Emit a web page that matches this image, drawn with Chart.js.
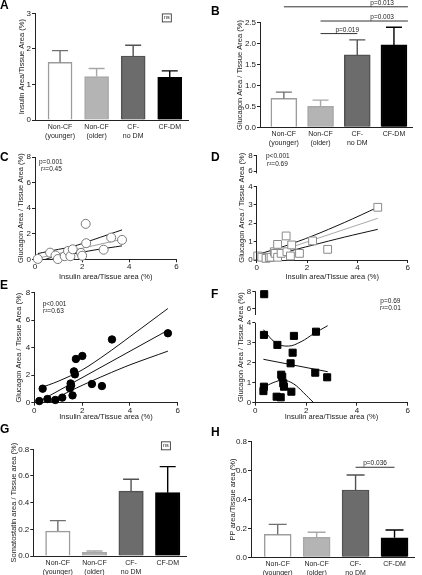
<!DOCTYPE html>
<html><head><meta charset="utf-8">
<script src="https://cdn.jsdelivr.net/npm/chart.js@4.4.0/dist/chart.umd.min.js"></script>
<style>
html,body{margin:0;padding:0;background:#fff;}
#wrap{position:relative;width:422px;height:575px;overflow:hidden;background:#fff;}
#wrap canvas{position:absolute;}
.lt{position:absolute;font:bold 12px "Liberation Sans",Arial,sans-serif;line-height:12px;color:#000;}
</style></head><body>
<div id="wrap">
<canvas id="cA"></canvas>
<canvas id="cB"></canvas>
<canvas id="cC"></canvas>
<canvas id="cD"></canvas>
<canvas id="cE"></canvas>
<canvas id="cF"></canvas>
<canvas id="cG"></canvas>
<canvas id="cH"></canvas>
<div class="lt" style="left:0px;top:-1px">A</div>
<div class="lt" style="left:211px;top:5px">B</div>
<div class="lt" style="left:0px;top:151px">C</div>
<div class="lt" style="left:211px;top:151px">D</div>
<div class="lt" style="left:0px;top:279px">E</div>
<div class="lt" style="left:211px;top:288px">F</div>
<div class="lt" style="left:0px;top:423px">G</div>
<div class="lt" style="left:211px;top:426px">H</div>
</div>
<script>
// ================= DATA =================
const groupLabels = [['Non-CF','(younger)'], ['Non-CF','(older)'], ['CF-','no DM'], 'CF-DM'];

const insulinMean = [1.62, 1.22, 1.80, 1.20];
const insulinSEM  = [0.33, 0.23, 0.30, 0.18];
const glucagonMean = [0.69, 0.50, 1.73, 1.97];
const glucagonSEM  = [0.15, 0.15, 0.36, 0.42];
const somatostatinMean = [0.187, 0.028, 0.487, 0.475];
const somatostatinSEM  = [0.078, 0.010, 0.088, 0.195];
const ppMean = [0.159, 0.138, 0.466, 0.135];
const ppSEM  = [0.069, 0.035, 0.104, 0.054];

const glucagonPairs = [[0,3],[1,3],[1,2]];
const glucagonPLabels = ['p=0.013','p=0.003','p=0.019'];
const ppPairs = [[2,3]];
const ppPLabels = ['p=0.036'];

// scatter y ticks (broken axes in D and F)
const brokenTicks = [0, 1, 2, 3, 4, 6, 8];

// C: Non-CF (younger)
const cInsulin  = [0.12, 0.64, 0.87, 0.97, 1.26, 1.40, 1.50, 1.60, 1.95, 2.00, 2.17, 2.15, 2.91, 3.23, 3.69];
const cGlucagon = [0.03, 0.52, 0.30, 0.02, 0.24, 0.65, 0.24, 0.78, 0.50, 0.28, 1.26, 2.77, 0.75, 1.70, 1.52];
const cFit   = [[0.12,0.08],[3.69,1.57]];
const cUpper = [[0.12,0.45],[1.0,0.78],[1.6,1.0],[2.5,1.55],[3.69,2.3]];
const cLower = [[0.12,-0.2],[1.0,0.3],[1.6,0.42],[2.5,0.72],[3.69,1.05]];

// D: Non-CF (older)
const dInsulin  = [0.04, 0.20, 0.37, 0.50, 0.57, 0.70, 0.73, 0.83, 0.83, 0.97, 1.17, 1.20, 1.34, 1.39, 1.70, 2.22, 2.82, 4.81];
const dGlucagon = [0.22, 0.15, 0.09, 0.13, 0.15, 0.45, 0.36, 0.85, 0.15, 0.36, 1.31, 0.45, 0.22, 0.82, 0.36, 1.04, 0.58, 2.87];
const dFit   = [[0.04,0.09],[4.81,2.27]];
const dUpper = [[0.04,0.30],[1.1,0.75],[2.2,1.30],[3.5,2.05],[4.81,2.87]];
const dLower = [[0.04,-0.10],[1.1,0.40],[2.2,0.80],[3.5,1.25],[4.81,1.67]];

// E: CF no DM
const eInsulin  = [0.21, 0.35, 0.55, 0.88, 1.17, 1.49, 1.52, 1.54, 1.60, 1.66, 1.70, 1.74, 2.01, 2.41, 2.83, 3.25, 5.59];
const eGlucagon = [0.12, 1.02, 0.27, 0.20, 0.37, 1.05, 1.40, 1.25, 0.53, 2.28, 2.06, 3.18, 3.40, 1.36, 1.21, 4.60, 5.05];
const eFit   = [[0.21,0.10],[5.59,5.27]];
const eUpper = [[0.21,1.05],[1.0,1.56],[2.0,2.38],[3.0,3.53],[4.0,4.80],[5.59,6.85]];
const eLower = [[0.21,-0.50],[1.0,0.40],[2.0,1.26],[3.0,2.03],[4.0,2.75],[5.59,3.75]];

// F: CF-DM
const fInsulin  = [0.35, 0.34, 0.87, 1.52, 1.47, 1.39, 2.39, 2.36, 2.83, 0.32, 0.34, 1.02, 1.06, 1.10, 1.13, 1.42, 0.84, 1.00];
const fGlucagon = [7.70, 3.39, 2.89, 3.34, 2.50, 1.97, 3.55, 1.50, 1.27, 0.58, 0.80, 1.40, 1.30, 0.97, 0.80, 0.55, 0.30, 0.27];
const fFit   = [[0.32,2.17],[2.85,1.55]];
const fUpper = [[0.32,3.65],[0.8,3.0],[1.3,2.83],[1.8,3.05],[2.3,3.45],[2.85,3.85]];
const fLower = [[0.32,0.75],[0.7,1.0],[1.1,1.12],[1.5,0.95],[1.9,0.5],[2.3,0.0],[2.5,-0.2]];

// ================= STYLE / LAYOUT =================
const FONT = '"Liberation Sans", Arial, Helvetica, sans-serif';
const INK = '#222';
const BAR_FILL = ['#ffffff','#b4b4b4','#6c6c6c','#000000'];
const BAR_EDGE = ['#9c9c9c','#a8a8a8','#525252','#000000'];
const ERR_COLOR = ['#707070','#a8a8a8','#525252','#000000'];

// canvas boxes (page coordinates, non-overlapping)
const BOX = {
  cA: { x: 0,   y: 0,   w: 211, h: 145 },
  cB: { x: 211, y: 0,   w: 211, h: 149 },
  cC: { x: 0,   y: 145, w: 211, h: 138 },
  cD: { x: 211, y: 149, w: 211, h: 134 },
  cE: { x: 0,   y: 283, w: 211, h: 139 },
  cF: { x: 211, y: 283, w: 211, h: 139 },
  cG: { x: 0,   y: 422, w: 211, h: 153 },
  cH: { x: 211, y: 422, w: 211, h: 153 }
};
// axis-break geometry: lower segment [0..lo] and upper segment [hi..max], as fractions of plot height
const BREAKS = {
  cD: { lo: 4, hi: 5.7, lowerFrac: 0.703, upperFrac: 0.171 },
  cF: { lo: 4, hi: 5.2, lowerFrac: 0.7207, upperFrac: 0.21 }
};

Chart.defaults.font.family = FONT;
Chart.defaults.color = INK;
Chart.defaults.animation = false;

// Linear scale with a compressed, gapped upper segment (broken axis)
class BrokenScale extends Chart.LinearScale {
  _brk() { return BREAKS[this.chart.canvas.id]; }
  getPixelForValue(value) {
    if (value === null || value === undefined || isNaN(value)) return NaN;
    const b = this._brk();
    const top = this.top, bottom = this.bottom, h = bottom - top, min = this.min, max = this.max;
    const yLo = bottom - h * b.lowerFrac, yHi = top + h * b.upperFrac;
    if (value <= b.lo) return bottom - (value - min) / (b.lo - min) * (bottom - yLo);
    if (value >= b.hi) return yHi - (value - b.hi) / (max - b.hi) * (yHi - top);
    return yLo + (value - b.lo) / (b.hi - b.lo) * (yHi - yLo);
  }
  getValueForPixel(pixel) {
    const b = this._brk();
    const top = this.top, bottom = this.bottom, h = bottom - top, min = this.min, max = this.max;
    const yLo = bottom - h * b.lowerFrac, yHi = top + h * b.upperFrac;
    if (pixel >= yLo) return min + (bottom - pixel) / (bottom - yLo) * (b.lo - min);
    if (pixel <= yHi) return b.hi + (yHi - pixel) / (yHi - top) * (max - b.hi);
    return b.lo + (yLo - pixel) / (yLo - yHi) * (b.hi - b.lo);
  }
}
BrokenScale.id = 'broken';
Chart.register(BrokenScale);

const ANNOT = {};
const annotPlugin = {
  id: 'annot',
  afterDatasetsDraw(chart) {
    const o = ANNOT[chart.canvas.id]; if (!o) return;
    const b = BOX[chart.canvas.id];
    const ctx = chart.ctx, xs = chart.scales.x, ys = chart.scales.y;
    ctx.save();
    if (o.broken) {
      const brk = BREAKS[chart.canvas.id];
      const x = Math.round(chart.chartArea.left - 0.5) + 0.5;
      ctx.strokeStyle = INK; ctx.lineWidth = 1;
      ctx.beginPath();
      ctx.moveTo(x, ys.getPixelForValue(ys.min) + 0.5); ctx.lineTo(x, ys.getPixelForValue(brk.lo));
      ctx.moveTo(x, ys.getPixelForValue(brk.hi)); ctx.lineTo(x, ys.getPixelForValue(ys.max) - 0.5);
      ctx.stroke();
    }
    if (o.err) {
      const meta = chart.getDatasetMeta(0);
      meta.data.forEach((el, i) => {
        const yb = ys.getPixelForValue(o.mean[i]);
        const yt = ys.getPixelForValue(o.mean[i] + o.err[i]);
        ctx.strokeStyle = ERR_COLOR[i]; ctx.lineWidth = 1.4;
        ctx.beginPath();
        ctx.moveTo(el.x, yb); ctx.lineTo(el.x, yt);
        ctx.moveTo(el.x - o.cap/2, yt); ctx.lineTo(el.x + o.cap/2, yt);
        ctx.stroke();
      });
    }
    (o.brackets || []).forEach(br => {
      const y = ys.getPixelForValue(br.y);
      ctx.strokeStyle = '#333'; ctx.lineWidth = 1;
      ctx.beginPath();
      ctx.moveTo(xs.getPixelForValue(br.from), y); ctx.lineTo(xs.getPixelForValue(br.to), y);
      ctx.stroke();
      ctx.fillStyle = INK; ctx.font = '6.5px ' + FONT;
      ctx.textAlign = br.align; ctx.textBaseline = 'alphabetic';
      ctx.fillText(br.text, xs.getPixelForValue(br.tx), y - 2);
    });
    (o.ns || []).forEach(n => {
      const cx = xs.getPixelForValue(n.x), cy = ys.getPixelForValue(n.y);
      ctx.strokeStyle = INK; ctx.lineWidth = 0.8;
      ctx.strokeRect(cx - 4.5, cy - 4, 9, 8);
      ctx.font = '5.5px ' + FONT; ctx.textAlign = 'center'; ctx.textBaseline = 'middle';
      ctx.fillStyle = INK; ctx.fillText(n.text, cx, cy);
    });
    (o.notes || []).forEach(n => {
      ctx.save(); ctx.translate(n.x - b.x, n.y - b.y);
      ctx.font = (n.size || 6.5) + 'px ' + FONT;
      ctx.textAlign = n.align || 'left'; ctx.textBaseline = 'middle'; ctx.fillStyle = INK;
      ctx.fillText(n.text, 0, 0); ctx.restore();
    });
    ctx.restore();
  }
};
Chart.register(annotPlugin);

function prepCanvas(id) {
  const b = BOX[id], c = document.getElementById(id);
  c.width = b.w; c.height = b.h;
  c.style.left = b.x + 'px'; c.style.top = b.y + 'px';
  return c;
}

function zeroPad(s){ s.paddingLeft = 0; s.paddingRight = 0; s.paddingTop = 0; s.paddingBottom = 0; }

function baseOptions(id, g, scales) {
  const b = BOX[id];
  return {
    responsive: false, animation: false, events: [],
    layout: { padding: {
      left: g.L - b.x, top: g.top - b.y,
      right: (b.x + b.w) - g.right, bottom: (b.y + b.h) - g.bottom - (g.hx || 0) } },
    plugins: { legend: { display: false }, tooltip: { enabled: false } },
    scales
  };
}

function yAxis(g, min, max, step, title, fmt, extra) {
  return Object.assign({
    type: 'linear', position: 'left', min, max,
    ticks: { stepSize: step, font: { size: 8 }, padding: 1, color: INK, callback: fmt || (v => v) },
    grid: { display: true, drawOnChartArea: false, drawTicks: true, tickLength: 3, color: INK, lineWidth: 1 },
    border: { display: true, color: INK, width: 1 },
    title: { display: !!title, text: title || '', font: { size: 7.5 }, padding: 0, color: INK },
    afterFit: s => { s.width = g.left - g.L; zeroPad(s); }
  }, extra || {});
}

function brokenY(g, title) {
  return yAxis(g, 0, 8, 1, title, v => v, {
    type: 'broken',
    border: { display: false },
    afterBuildTicks: s => { s.ticks = brokenTicks.map(v => ({ value: v })); }
  });
}

function xBar(g, min, max) {
  return {
    type: 'linear', position: 'bottom', min, max, offset: false,
    afterBuildTicks: s => { s.ticks = groupLabels.map((_, i) => ({ value: i })); },
    ticks: { autoSkip: false, maxRotation: 0, minRotation: 0, font: { size: 7, lineHeight: 1.35 }, padding: 2, color: INK,
             callback: v => groupLabels[v] },
    grid: { display: false, drawTicks: false, offset: false },
    border: { display: true, color: INK, width: 1 },
    afterFit: s => { s.height = g.hx; zeroPad(s); }
  };
}

function xScatter(g) {
  return {
    type: 'linear', position: 'bottom', min: 0, max: 6,
    ticks: { stepSize: 2, font: { size: 8 }, padding: 0, color: INK },
    grid: { display: true, drawOnChartArea: false, drawTicks: true, tickLength: 3, color: INK, lineWidth: 1 },
    border: { display: true, color: INK, width: 1 },
    title: { display: true, text: 'Insulin area/Tissue area (%)', font: { size: 7.5 }, padding: 0, color: INK },
    afterFit: s => { s.height = g.hx; zeroPad(s); }
  };
}

function barPanel(id, g, mean, sem, ymax, step, fmt, title, annot) {
  ANNOT[id] = Object.assign({ mean, err: sem, cap: g.cap }, annot || {});
  return new Chart(prepCanvas(id), {
    type: 'bar',
    data: { datasets: [{
      data: mean.map((v, i) => ({ x: i, y: v })),
      backgroundColor: BAR_FILL, borderColor: BAR_EDGE, borderWidth: 1.5, barThickness: g.bw
    }] },
    options: baseOptions(id, g, { x: xBar(g, g.xmin, g.xmax), y: yAxis(g, 0, ymax, step, title, fmt) })
  });
}

function toXY(arr) { return arr.map(p => ({ x: p[0], y: p[1] })); }

function scatterPanel(id, g, pts, ptStyle, fits, yCfg, annot) {
  const ds = [];
  ds.push(Object.assign({ type: 'scatter', data: pts, clip: false, showLine: false }, ptStyle));
  fits.forEach(f => ds.push({ type: 'line', data: toXY(f.pts), borderColor: f.color, borderWidth: 1,
    pointRadius: 0, tension: f.tension || 0, fill: false }));
  if (annot) ANNOT[id] = annot;
  return new Chart(prepCanvas(id), {
    type: 'scatter',
    data: { datasets: ds },
    options: baseOptions(id, g, { x: xScatter(g), y: yCfg })
  });
}

const f1 = v => v.toFixed(1);
const GT = 'Glucagon Area / Tissue Area (%)';

// ---- A ----
barPanel('cA', { L: 17, left: 35, right: 188, top: 13.3, bottom: 120, hx: 24, bw: 24, cap: 16, xmin: -0.685, xmax: 3.5 },
  insulinMean, insulinSEM, 3, 1, v => v, 'Insulin Area/Tissue Area (%)',
  { ns: [{ x: 2.92, y: 2.87, text: 'ns' }] });

// ---- B ----
const bTo = [3.38, 3.38, 2.0], bY = [2.88, 2.54, 2.24], bTx = [3.0, 3.0, 2.05];
barPanel('cB', { L: 235, left: 260, right: 412.3, top: 22.7, bottom: 127.3, hx: 21.7, bw: 26, cap: 16, xmin: -0.65, xmax: 3.5 },
  glucagonMean, glucagonSEM, 2.5, 0.5, f1, GT,
  { brackets: glucagonPairs.map((p, i) => ({ from: p[0], to: bTo[i], y: bY[i], tx: bTx[i], align: 'right', text: glucagonPLabels[i] })) });

// ---- C ----
const gC = { L: 16, left: 35, right: 176.5, top: 157, bottom: 259.3, hx: 22 };
scatterPanel('cC', gC,
  cInsulin.map((x, i) => ({ x, y: cGlucagon[i] })),
  { pointStyle: 'circle', pointRadius: 4.5, pointBackgroundColor: '#fff', pointBorderColor: '#7a7a7a', pointBorderWidth: 1 },
  [{ pts: cFit, color: '#a0a0a0' }, { pts: cUpper, color: '#111', tension: 0.3 }, { pts: cLower, color: '#111', tension: 0.3 }],
  yAxis(gC, 0, 8, 2, GT),
  { notes: [{ text: 'p=0.001', x: 39, y: 162.7 }, { text: 'r\u00b2=0.45', x: 41, y: 169.5 }] });

// ---- D (broken y axis) ----
const gD = { L: 237, left: 256.7, right: 407.7, top: 154.3, bottom: 260, hx: 21.5 };
scatterPanel('cD', gD,
  dInsulin.map((x, i) => ({ x, y: dGlucagon[i] })),
  { pointStyle: 'rect', pointRadius: 5.5, pointBackgroundColor: '#fff', pointBorderColor: '#8a8a8a', pointBorderWidth: 1 },
  [{ pts: dFit, color: '#a8a8a8' }, { pts: dUpper, color: '#111', tension: 0.3 }, { pts: dLower, color: '#111', tension: 0.3 }],
  brokenY(gD, GT),
  { broken: true, notes: [{ text: 'p<0.001', x: 266, y: 156.7 }, { text: 'r\u00b2=0.69', x: 267, y: 164.5 }] });

// ---- E ----
const gE = { L: 14.5, left: 34.3, right: 177.7, top: 292.7, bottom: 402.7, hx: 19 };
scatterPanel('cE', gE,
  eInsulin.map((x, i) => ({ x, y: eGlucagon[i] })),
  { pointStyle: 'circle', pointRadius: 3.7, pointBackgroundColor: '#000', pointBorderColor: '#000', pointBorderWidth: 1 },
  [{ pts: eFit, color: '#111' }, { pts: eUpper, color: '#111', tension: 0.3 }, { pts: eLower, color: '#111', tension: 0.3 }],
  yAxis(gE, 0, 8, 2, GT),
  { notes: [{ text: 'p<0.001', x: 42.7, y: 304 }, { text: 'r\u00b2=0.63', x: 43, y: 311 }] });

// ---- F (broken y axis) ----
const gF = { L: 236, left: 255.3, right: 407.7, top: 291.7, bottom: 402.7, hx: 19 };
scatterPanel('cF', gF,
  fInsulin.map((x, i) => ({ x, y: fGlucagon[i] })),
  { pointStyle: 'rect', pointRadius: 5, pointBackgroundColor: '#000', pointBorderColor: '#000', pointBorderWidth: 1 },
  [{ pts: fFit, color: '#111' }, { pts: fUpper, color: '#111', tension: 0.4 }, { pts: fLower, color: '#111', tension: 0.4 }],
  brokenY(gF, GT),
  { broken: true, notes: [{ text: 'p=0.69', x: 380.3, y: 301.7 }, { text: 'r\u00b2=0.01', x: 380, y: 308.5 }] });

// ---- G ----
barPanel('cG', { L: 9, left: 33.3, right: 186, top: 449.3, bottom: 556, hx: 19, bw: 24.5, cap: 16, xmin: -0.67, xmax: 3.5 },
  somatostatinMean, somatostatinSEM, 0.8, 0.2, f1, 'Somatostatin area / Tissue area (%)',
  { ns: [{ x: 2.95, y: 0.826, text: 'ns' }] });

// ---- H ----
barPanel('cH', { L: 228, left: 251, right: 414, top: 441.7, bottom: 557.3, hx: 17.7, bw: 27, cap: 18, xmin: -0.685, xmax: 3.5 },
  ppMean, ppSEM, 0.8, 0.2, f1, 'PP area/Tissue area (%)',
  { brackets: ppPairs.map((p, i) => ({ from: p[0], to: p[1], y: 0.623, tx: (p[0] + p[1]) / 2, align: 'center', text: ppPLabels[i] })) });
</script>
</body></html>
